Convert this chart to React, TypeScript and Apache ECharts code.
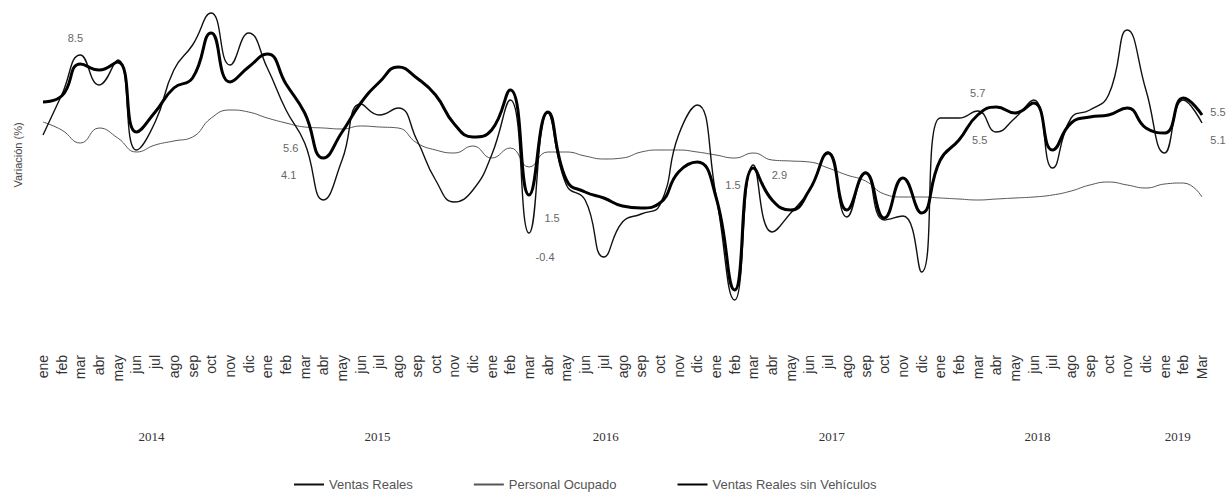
import React, { useEffect, useRef } from "react";
import * as echarts from "echarts";

const monthNames = ["ene", "feb", "mar", "abr", "may", "jun", "jul", "ago", "sep", "oct", "nov", "dic"];
const months: string[] = [
  ...monthNames, ...monthNames, ...monthNames, ...monthNames, ...monthNames,
  "ene", "feb", "Mar",
];
const years = ["2014", "2015", "2016", "2017", "2018", "2019"];

// Variación anual (%)
const ventasReales = [
  4.5, 6.5, 8.5, 7.0, 8.25, 3.75, 5.15, 7.75, 9.0, 10.6, 8.0, 9.6,
  7.85, 5.75, 4.1, 1.25, 3.25, 6.05, 5.5, 5.85, 4.25, 2.25, 1.15, 1.75,
  3.5, 6.25, -0.4, 5.6, 2.0, 1.25, -1.6, 0.15, 0.55, 1.0, 4.5, 6.0,
  1.5, -3.75, 3.0, -0.35, 0.6, 1.75, 3.65, 0.4, 2.65, 0.25, 0.45, -2.35,
  5.35, 5.35, 5.7, 4.65, 5.35, 6.25, 2.85, 5.35, 5.75, 6.5, 9.75, 6.75,
  3.6, 6.25, 5.1,
];
const personalOcupado = [
  5.15, 4.75, 4.1, 4.85, 4.35, 3.65, 4.0, 4.2, 4.4, 5.35, 5.75, 5.65,
  5.35, 5.1, 4.9, 4.85, 4.8, 4.95, 4.9, 4.85, 4.1, 3.75, 3.6, 3.95,
  3.35, 3.85, 2.9, 3.65, 3.65, 3.45, 3.3, 3.35, 3.65, 3.75, 3.75, 3.65,
  3.5, 3.35, 3.6, 3.25, 3.2, 3.15, 2.85, 2.5, 2.2, 1.55, 1.4, 1.4,
  1.35, 1.3, 1.25, 1.3, 1.35, 1.4, 1.5, 1.7, 2.0, 2.15, 2.0, 1.85,
  2.05, 2.1, 1.4,
];
const ventasSinVehiculos = [
  6.15, 6.45, 8.05, 7.75, 8.15, 4.65, 5.65, 6.85, 7.35, 9.6, 7.15, 7.9,
  8.55, 7.05, 5.6, 3.35, 4.65, 6.1, 7.15, 7.9, 7.35, 6.5, 5.05, 4.4,
  4.75, 6.75, 1.5, 5.65, 2.25, 1.65, 1.35, 0.95, 0.85, 1.1, 2.65, 3.15,
  1.4, -3.25, 2.85, 1.25, 0.75, 1.75, 3.6, 0.75, 2.6, 0.35, 2.35, 0.6,
  3.25, 4.25, 5.5, 5.9, 5.6, 6.1, 3.75, 5.1, 5.4, 5.5, 5.85, 4.85,
  4.6, 6.35, 5.5,
];

// which points carry a value label (index into the series) and where the text sits
const labelsVentasReales = [
  { index: 2, dx: -5, dy: -17 },
  { index: 14, dx: -16, dy: 32 },
  { index: 26, dx: 16, dy: 24 },
  { index: 36, dx: 17, dy: -10 },
  { index: 50, dx: 0, dy: -18 },
  { index: 62, dx: 16, dy: 17 },
];
const labelsSinVehiculos = [
  { index: 14, dx: -14, dy: 35 },
  { index: 26, dx: 23, dy: 23 },
  { index: 38, dx: 26, dy: 7 },
  { index: 50, dx: 2, dy: 25 },
  { index: 62, dx: 16, dy: -3 },
];

// year label centres, in month-index units along the bottom axis
const yearLabelPos = [5.8, 17.9, 30.1, 42.2, 53.2, 60.7];

function markPoints(values: number[], spots: { index: number; dx: number; dy: number }[]) {
  return {
    silent: true,
    symbol: "circle",
    symbolSize: 1,
    itemStyle: { color: "rgba(0,0,0,0)" },
    data: spots.map((s) => ({
      coord: [s.index, values[s.index]],
      value: values[s.index],
      label: {
        show: true,
        position: "inside",
        offset: [s.dx, s.dy],
        formatter: values[s.index].toFixed(1),
        color: "#666",
        fontSize: 11,
        fontFamily: "Liberation Sans",
      },
    })),
  };
}

export default function App() {
  const ref = useRef<HTMLDivElement>(null);
  useEffect(() => {
    if (!ref.current) return;
    const chart = echarts.init(ref.current, undefined, { renderer: "svg" });
    chart.setOption({
      animation: false,
      backgroundColor: "#ffffff",
      grid: { left: 43, right: 30, top: 5, height: 300 },
      legend: {
        bottom: 6,
        left: 288,
        itemGap: 60,
        itemWidth: 30,
        itemHeight: 8,
        itemStyle: { opacity: 0 },
        textStyle: { color: "#555", fontSize: 13, fontFamily: "Liberation Sans" },
        data: ["Ventas Reales", "Personal Ocupado", "Ventas Reales sin Vehículos"],
      },
      xAxis: [
        {
          type: "category",
          data: months,
          boundaryGap: false,
          axisLine: { show: false },
          axisTick: { show: false },
          splitLine: { show: false },
          axisLabel: {
            interval: 0,
            rotate: 90,
            margin: 50,
            fontSize: 14,
            color: "#333",
            fontFamily: "Liberation Sans",
          },
        },
        {
          type: "value",
          min: 0,
          max: months.length - 1,
          position: "bottom",
          axisLine: { show: false },
          axisTick: { show: false },
          splitLine: { show: false },
          axisLabel: {
            customValues: yearLabelPos,
            margin: 125,
            fontSize: 13,
            color: "#333",
            fontFamily: "Liberation Serif",
            formatter: (v: number) => {
              const k = yearLabelPos.findIndex((p) => Math.abs(p - v) < 1e-6);
              return k >= 0 ? years[k] : "";
            },
          },
        },
      ],
      yAxis: {
        type: "value",
        min: -4,
        max: 11,
        name: "Variación (%)",
        nameLocation: "middle",
        nameGap: 20,
        nameTextStyle: { color: "#444", fontSize: 11, fontFamily: "Liberation Sans" },
        axisLine: { show: false },
        axisTick: { show: false },
        axisLabel: { show: false },
        splitLine: { show: false },
      },
      series: [
        {
          name: "Ventas Reales",
          type: "line",
          data: ventasReales,
          smooth: true,
          symbol: "none",
          lineStyle: { color: "#111", width: 1.4 },
          itemStyle: { color: "#111" },
          markPoint: markPoints(ventasReales, labelsVentasReales),
          z: 3,
        },
        {
          name: "Personal Ocupado",
          type: "line",
          data: personalOcupado,
          smooth: true,
          symbol: "none",
          lineStyle: { color: "#555", width: 1 },
          itemStyle: { color: "#555" },
          z: 2,
        },
        {
          name: "Ventas Reales sin Vehículos",
          type: "line",
          data: ventasSinVehiculos,
          smooth: true,
          symbol: "none",
          lineStyle: { color: "#000", width: 3 },
          itemStyle: { color: "#000" },
          markPoint: markPoints(ventasSinVehiculos, labelsSinVehiculos),
          z: 4,
        },
      ],
    });
    return () => chart.dispose();
  }, []);
  return (
    <div
      ref={ref}
      style={{ position: "absolute", left: 0, top: 0, width: 1232, height: 502 }}
    />
  );
}
